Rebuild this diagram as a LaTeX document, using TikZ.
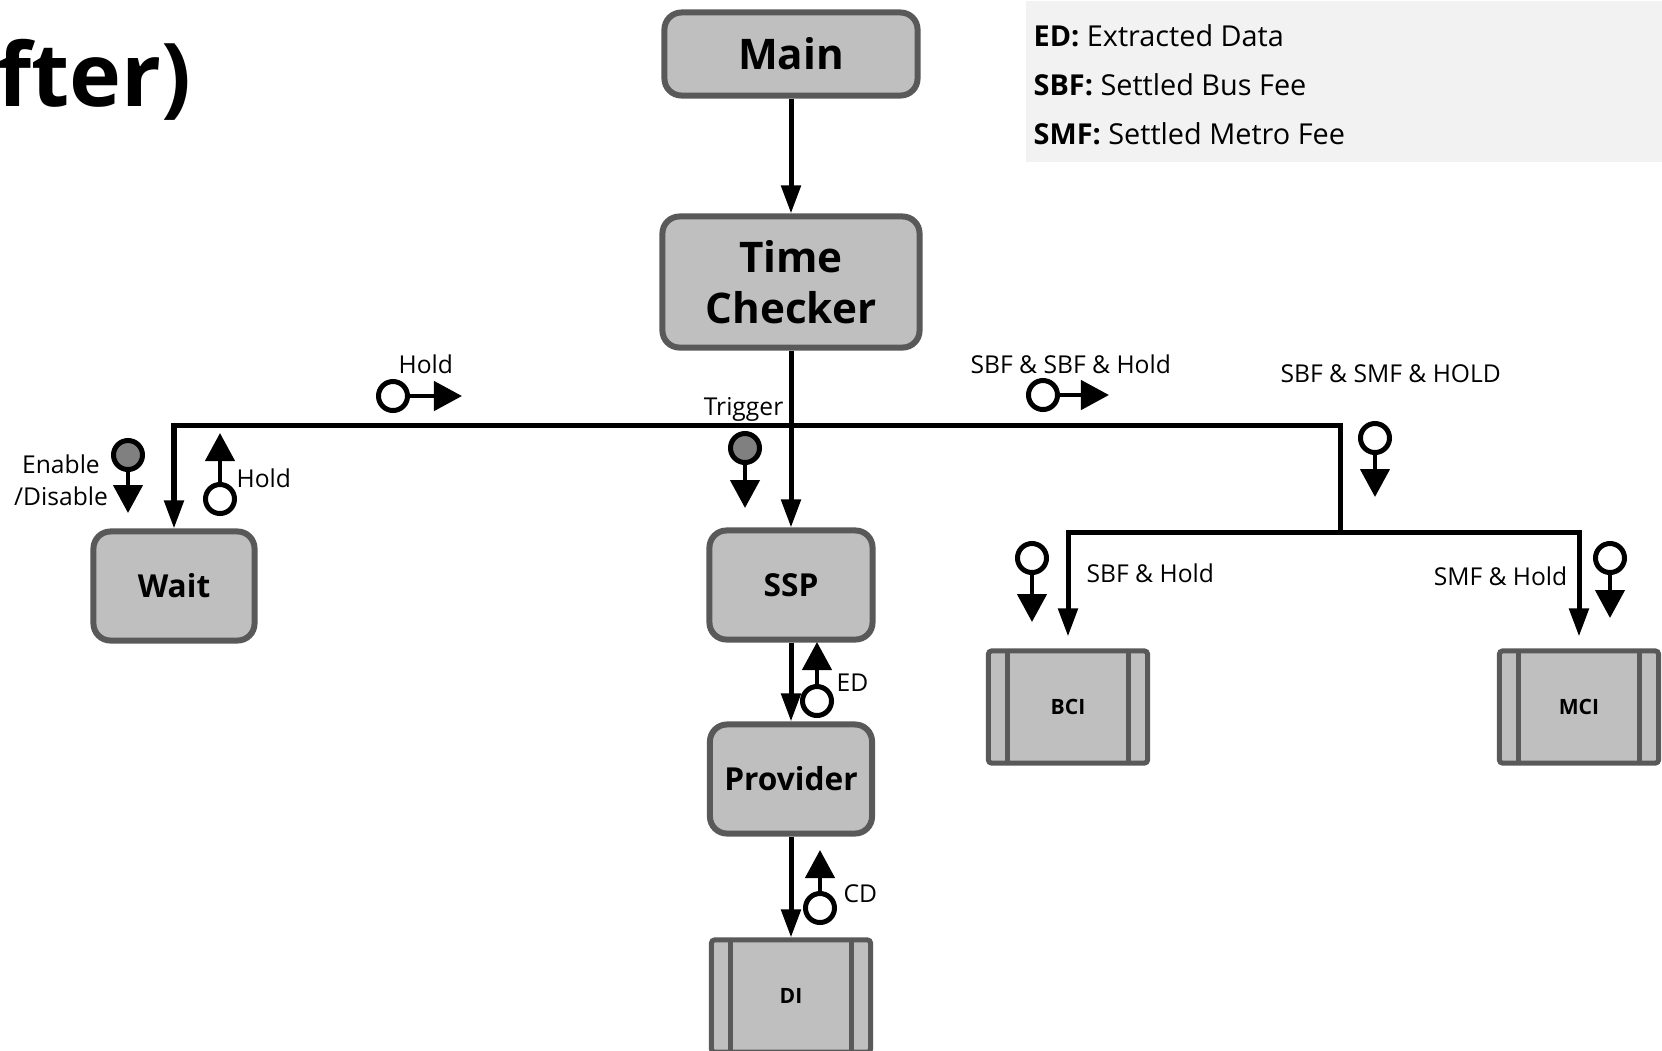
\documentclass[tikz,border=0pt]{standalone}
\usepackage{fontspec}
\setmainfont{Open Sans}
\usetikzlibrary{arrows.meta,calc}
\definecolor{boxfill}{HTML}{BFBFBF}
\definecolor{boxline}{HTML}{595959}
\definecolor{flaggray}{HTML}{808080}
\definecolor{legendbg}{HTML}{F2F2F2}
\newcommand\flagsig[4]{%
  \node[flagc, fill=#3] (#1) at (#2) {};
  \coordinate (#1tip) at ($(#1)+(#4)$);
  \draw[flagarr] (#1) -- (#1tip);}
\begin{document}
\begin{tikzpicture}[x=0.01cm,y=-0.01cm,
  proc/.style={draw=boxline, fill=boxfill, line width=0.06cm, rounded corners=0.17cm, inner sep=0pt, align=center},
  bigtxt/.style={font=\bfseries\fontsize{12}{14.5}\selectfont},
  midtxt/.style={font=\bfseries\fontsize{9}{11}\selectfont},
  module/.style={draw=boxline, fill=boxfill, line width=0.05cm, rounded corners=0.03cm, inner sep=0pt,
    minimum width=1.59cm, minimum height=1.12cm, font=\bfseries\fontsize{6}{7}\selectfont,
    path picture={
      \draw[boxline, line width=0.05cm]
        ([xshift=0.195cm]path picture bounding box.north west) -- ([xshift=0.195cm]path picture bounding box.south west)
        ([xshift=-0.195cm]path picture bounding box.north east) -- ([xshift=-0.195cm]path picture bounding box.south east);}},
  conn/.style={line width=0.05cm, line join=miter, -{Triangle[length=0.28cm,width=0.19cm]}},
  flagc/.style={circle, draw=black, line width=0.05cm, minimum size=0.29cm, inner sep=0pt},
  flagarr/.style={line width=0.045cm, -{Triangle[length=0.28cm,width=0.29cm]}},
  lbl/.style={font=\fontsize{7}{8}\selectfont, inner sep=0pt},
  lgd/.style={font=\fontsize{8.2}{9}\selectfont, inner sep=0pt},
]
\useasboundingbox (0,0) rectangle (1662,1050);

% title
\node[anchor=base west, inner sep=0pt, font=\bfseries\fontsize{25}{28}\selectfont] (title) at (-3,106) {fter)};

% legend
\node[fill=legendbg, anchor=north west, inner sep=0pt, minimum width=6.37cm, minimum height=1.61cm] (legend) at (1025,0) {};
\node[lgd, anchor=base west] (lgED) at (1033,46) {\textbf{ED:} Extracted Data};
\node[lgd, anchor=base west] (lgSBF) at (1033,95) {\textbf{SBF:} Settled Bus Fee};
\node[lgd, anchor=base west] (lgSMF) at (1033,144) {\textbf{SMF:} Settled Metro Fee};

% boxes
\node[proc, bigtxt, minimum width=2.53cm, minimum height=0.83cm] (main) at (791,54) {Main};
\node[proc, bigtxt, minimum width=2.57cm, minimum height=1.31cm] (tc) at (791,282) {Time\\Checker};
\node[proc, midtxt, minimum width=1.61cm, minimum height=1.09cm] (wait) at (174,586) {Wait};
\node[proc, midtxt, minimum width=1.63cm, minimum height=1.09cm] (ssp) at (791,585) {SSP};
\node[proc, midtxt, minimum width=1.62cm, minimum height=1.09cm] (prov) at (791,779) {Provider};
\node[module] (di) at (791,996) {DI};
\node[module] (bci) at (1068,707) {BCI};
\node[module] (mci) at (1579,707) {MCI};

% connectors
\coordinate (busL) at (174,425);
\coordinate (busR) at (1340,425);
\coordinate (brM) at (1340,532);
\coordinate (brL) at (1068,532);
\coordinate (brR) at (1579,532);
\draw[conn] (main.south) -- (tc.north);
\draw[conn] (tc.south) -- (ssp.north);
\draw[conn] (brM) -- (busR) -- (busL) -- (wait.north);
\draw[conn, shorten >=0.12cm] (brM) -- (brL) -- (bci.north);
\draw[conn, shorten >=0.12cm] (brM) -- (brR) -- (mci.north);
\draw[conn] (ssp.south) -- (prov.north);
\draw[conn] (prov.south) -- (di.north);

% flags
\flagsig{fHold}{393,396}{white}{69,0}
\flagsig{fEn}{128,455}{flaggray}{0,58}
\flagsig{fHoldW}{220,499}{white}{0,-66}
\flagsig{fTrig}{745,448}{flaggray}{0,60}
\flagsig{fSBF}{1043,395}{white}{66,0}
\flagsig{fSMF}{1375,438}{white}{0,59}
\flagsig{fBCI}{1032,558}{white}{0,64}
\flagsig{fMCI}{1610,558}{white}{0,60}
\flagsig{fED}{817,701}{white}{0,-59}
\flagsig{fCD}{820,908}{white}{0,-58}

% labels
\node[lbl, anchor=base west] (lHold) at (398,373) {Hold};
\node[lbl, align=center, anchor=base, font=\fontsize{7}{9.1}\selectfont] (lEn) at (61,505) {Enable\\/Disable};
\node[lbl, anchor=base west] (lHoldW) at (236,487) {Hold};
\node[lbl, anchor=base east] (lTrig) at (784,415) {Trigger};
\node[lbl, anchor=base west] (lSBF) at (970,373) {SBF \& SBF \& Hold};
\node[lbl, anchor=base west] (lSMF) at (1280,382) {SBF \& SMF \& HOLD};
\node[lbl, anchor=base west] (lBCI) at (1086,582) {SBF \& Hold};
\node[lbl, anchor=base east] (lMCI) at (1568,585) {SMF \& Hold};
\node[lbl, anchor=base west] (lED) at (836,691) {ED};
\node[lbl, anchor=base west] (lCD) at (843,902) {CD};
\end{tikzpicture}
\end{document}
